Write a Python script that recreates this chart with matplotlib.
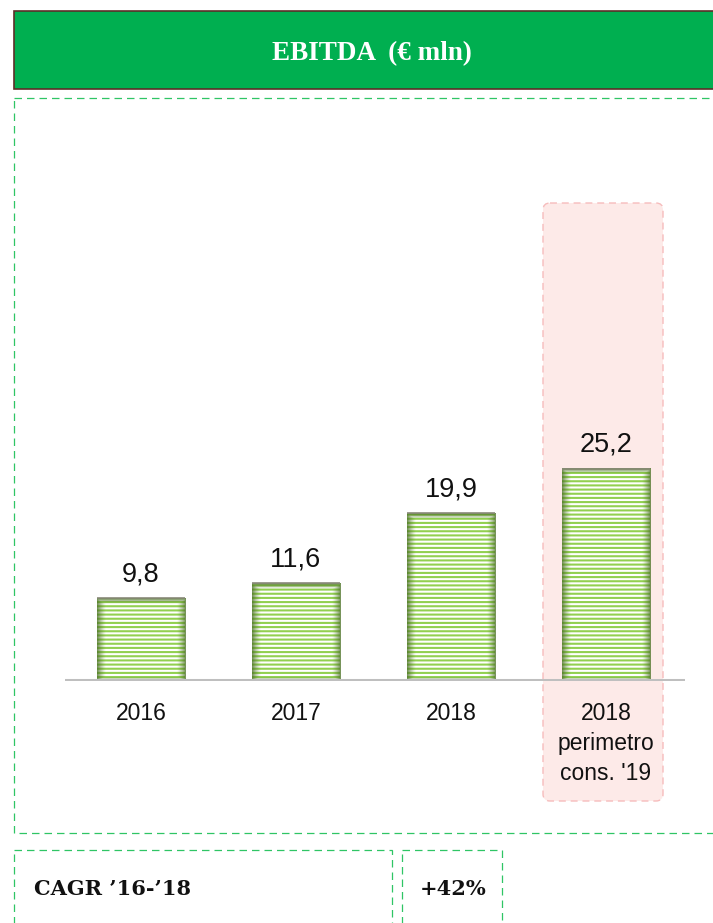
import matplotlib
matplotlib.use("Agg")
import matplotlib.pyplot as plt
import numpy as np
from matplotlib.patches import Rectangle, FancyBboxPatch

# ---- data ----
categories = ["2016", "2017", "2018", "2018\nperimetro\ncons. '19"]
values = [9.8, 11.6, 19.9, 25.2]
title = "EBITDA  (\u20ac mln)"
cagr_label = "CAGR \u201916-\u201918"
cagr_value = "+42%"

W, H = 713, 923
DPI = 100
plt.rcParams['font.family'] = ['Liberation Sans', 'DejaVu Sans']
plt.rcParams['hatch.linewidth'] = 1.5

fig = plt.figure(figsize=(W / DPI, H / DPI), dpi=DPI)
fig.patch.set_facecolor('white')

# overlay axes in pixel coordinates (y downwards)
ov = fig.add_axes([0, 0, 1, 1], zorder=0)
ov.set_xlim(0, W)
ov.set_ylim(H, 0)
ov.axis('off')

green_dash = '#2fc565'
# header
ov.add_patch(Rectangle((14, 11), W, 78, facecolor='#00af50', edgecolor='#5b2e28', lw=1.2))
ov.text(372, 54, title, color='white', fontsize=19.5, fontweight='bold',
        family=['Liberation Serif', 'DejaVu Serif'], ha='center', va='center')
# main dashed frame
ov.add_patch(Rectangle((14, 98), W, 735, facecolor='none', edgecolor=green_dash,
                       lw=0.9, linestyle=(0, (6, 4))))
# bottom boxes
ov.add_patch(Rectangle((14, 850), 378, 100, facecolor='none', edgecolor=green_dash,
                       lw=0.9, linestyle=(0, (6, 4))))
ov.add_patch(Rectangle((402, 850), 100, 100, facecolor='none', edgecolor=green_dash,
                       lw=0.9, linestyle=(0, (6, 4))))
ov.text(34, 889, cagr_label, fontsize=15, fontweight='bold',
        family=['DejaVu Serif'], ha='left', va='center', color='#111111')
ov.text(453, 889, cagr_value, fontsize=15, fontweight='bold',
        family=['DejaVu Serif'], ha='center', va='center', color='#111111')
# highlight box
ov.add_patch(FancyBboxPatch((543, 203), 120, 598, boxstyle='round,pad=0,rounding_size=7',
                            facecolor='#fdeae8', edgecolor='#f6bcbc', lw=1.0,
                            linestyle=(0, (5, 3.5))))

# bar axes
left_px, right_px = 65, 685
base_px = 681
ppu = 8.42
ymax = 30
ax_h = ymax * ppu
ax = fig.add_axes([left_px / W, (H - base_px) / H, (right_px - left_px) / W, ax_h / H], zorder=1)
ax.patch.set_alpha(0)
ax.set_xlim(-0.49, 3.51)
ax.set_ylim(0, ymax)
for s in ax.spines.values():
    s.set_visible(False)
ax.set_yticks([])

x = np.arange(len(values))
bars = ax.bar(x, values, width=0.57, facecolor='white', edgecolor='#92d050',
              linewidth=0, hatch='----', zorder=2)

# shading gradient at bar edges
n = 200
gx = np.linspace(-1, 1, n)
edge_x = np.clip((np.abs(gx) - 0.8) / 0.2, 0, 1) ** 1.3
for b in bars:
    x0, w, h = b.get_x(), b.get_width(), b.get_height()
    npx_h = max(int(h * ppu), 2)
    gy = np.linspace(0, 1, npx_h)[:, None]  # 0 top ... 1 bottom (origin upper)
    top = np.clip(1 - gy * h * ppu / 5.0, 0, 1)
    bot = np.clip((gy * h * ppu - (h * ppu - 4)) / 4.0, 0, 1) * 0.6
    alpha = np.maximum(np.maximum(edge_x[None, :], top), bot) * 0.8
    img = np.zeros((npx_h, n, 4))
    img[..., 0] = 0.30
    img[..., 1] = 0.45
    img[..., 2] = 0.15
    img[..., 3] = alpha
    ax.imshow(img, extent=(x0, x0 + w, 0, h), aspect='auto', zorder=3,
              interpolation='bilinear')
    ax.plot([x0, x0 + w], [h, h], color='#8a8a7a', lw=1.2, zorder=4,
            solid_capstyle='butt')
    lab = f"{h:.1f}".replace('.', ',')
    ax.annotate(lab, (b.get_x() + w / 2, h), xytext=(0, 8), textcoords='offset points',
                ha='center', va='bottom', fontsize=19.5, color='#111111')

ax.set_xlim(-0.49, 3.51)
ax.set_ylim(0, ymax)
ax.axhline(0, color='#bfbfbf', lw=2.9, zorder=5)
ax.set_xticks(x)
ax.set_xticklabels(categories, fontsize=16.5, linespacing=1.4, color='#111111')
ax.tick_params(axis='x', length=0, pad=15)

fig.savefig('out.png', dpi=DPI, facecolor='white')
